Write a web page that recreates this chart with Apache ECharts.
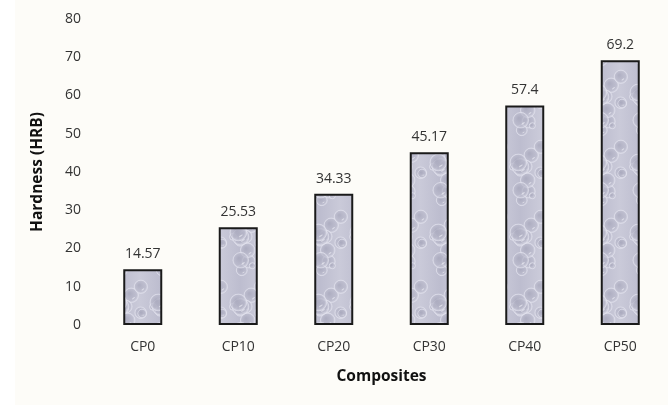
<!DOCTYPE html>
<html>
<head>
<meta charset="utf-8">
<script src="https://cdn.jsdelivr.net/npm/echarts@6/dist/echarts.min.js"></script>
<style>
  html, body { margin: 0; padding: 0; background: #fdfcf8; }
  #chart { width: 668px; height: 405px; }
</style>
</head>
<body>
<div id="chart"></div>
<script>
// Hardness of the composite samples
const categories = ['CP0', 'CP10', 'CP20', 'CP30', 'CP40', 'CP50'];
const hardness = [14.57, 25.53, 34.33, 45.17, 57.4, 69.2];
const yTicks = [0, 10, 20, 30, 40, 50, 60, 70, 80];

// Soft water-droplet fill texture, drawn once onto an offscreen canvas
function makeDropletTexture() {
  const w = 40, h = 70;
  const c = document.createElement('canvas');
  c.width = w; c.height = h;
  const g = c.getContext('2d');
  const base = g.createLinearGradient(0, 0, w, 0);
  base.addColorStop(0, '#bdbdcf');
  base.addColorStop(0.5, '#cacad9');
  base.addColorStop(1, '#bdbdcf');
  g.fillStyle = base;
  g.fillRect(0, 0, w, h);
  let s = 11;
  const rnd = () => { s = (s * 16807) % 2147483647; return s / 2147483647; };
  const drops = [];
  for (let i = 0; i < 14; i++) {
    drops.push({ x: rnd() * w, y: rnd() * h, r: 3 + rnd() * 6 });
  }
  drops.forEach(d => {
    for (let ox = -w; ox <= w; ox += w) {
      for (let oy = -h; oy <= h; oy += h) {
        const x = d.x + ox, y = d.y + oy;
        const grad = g.createRadialGradient(x - d.r * 0.25, y - d.r * 0.25, d.r * 0.1, x, y, d.r);
        grad.addColorStop(0, 'rgba(168,168,188,0.75)');
        grad.addColorStop(0.75, 'rgba(184,184,202,0.6)');
        grad.addColorStop(1, 'rgba(222,222,234,0.8)');
        g.fillStyle = grad;
        g.beginPath(); g.arc(x, y, d.r, 0, Math.PI * 2); g.fill();
        g.strokeStyle = 'rgba(228,228,238,0.55)';
        g.lineWidth = 1;
        g.stroke();
        g.fillStyle = 'rgba(245,245,250,0.6)';
        g.beginPath();
        g.ellipse(x + d.r * 0.3, y + d.r * 0.4, d.r * 0.25, d.r * 0.08, -0.6, 0, Math.PI * 2);
        g.fill();
      }
    }
  });
  return c;
}

const texture = makeDropletTexture();
const chart = echarts.init(document.getElementById('chart'), null, { renderer: 'canvas' });
const font = '"Open Sans", "Liberation Sans", sans-serif';

chart.setOption({
  backgroundColor: '#fdfcf8',
  animation: false,
  graphic: [{
    type: 'rect', left: 0, top: 0, z: -1,
    shape: { width: 15, height: 405 },
    style: { fill: '#ffffff' }
  }],
  grid: { left: 95, right: -6, top: 19, bottom: 80 },
  xAxis: {
    type: 'category',
    data: categories,
    name: 'Composites',
    nameLocation: 'middle',
    nameGap: 44,
    nameTextStyle: { fontFamily: font, fontWeight: 'bold', fontSize: 15.5, color: '#111' },
    axisLine: { show: false },
    axisTick: { show: false },
    axisLabel: { fontFamily: font, fontSize: 14, color: '#333', margin: 15 }
  },
  yAxis: {
    type: 'value',
    min: yTicks[0],
    max: yTicks[yTicks.length - 1],
    interval: yTicks[1] - yTicks[0],
    name: 'Hardness (HRB)',
    nameLocation: 'middle',
    nameGap: 49,
    nameTextStyle: { fontFamily: font, fontWeight: 'bold', fontSize: 15.5, color: '#111' },
    axisLine: { show: false },
    axisTick: { show: false },
    splitLine: { show: false },
    axisLabel: { fontFamily: font, fontSize: 14, color: '#333', margin: 14 }
  },
  series: [{
    type: 'bar',
    data: hardness,
    barWidth: 39,
    itemStyle: {
      color: { image: texture, repeat: 'repeat' },
      borderColor: '#1a1a1a',
      borderWidth: 2
    },
    label: {
      show: true,
      position: 'top',
      distance: 8,
      fontFamily: font,
      fontSize: 14,
      color: '#333'
    }
  }]
});
</script>
</body>
</html>
